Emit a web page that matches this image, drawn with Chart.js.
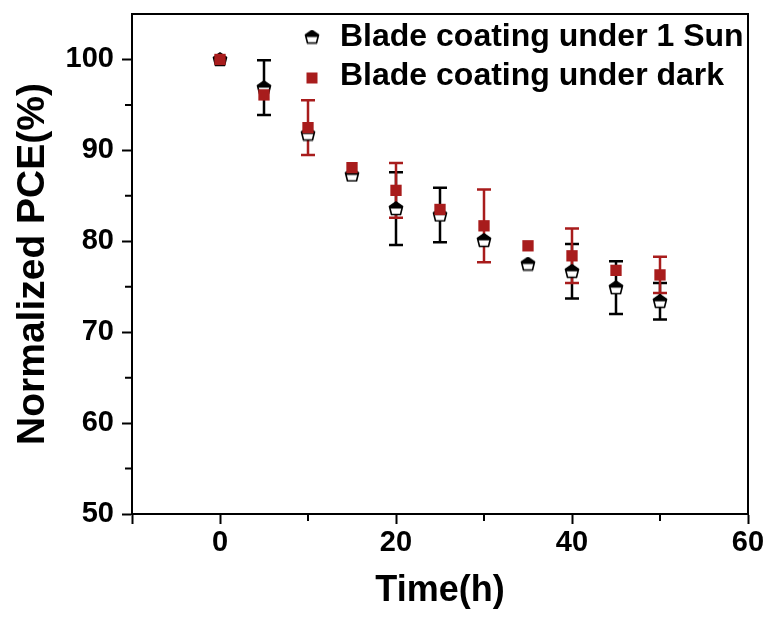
<!DOCTYPE html>
<html>
<head>
<meta charset="utf-8">
<script src="https://cdn.jsdelivr.net/npm/chart.js@4"></script>
<style>
  body { margin: 0; background: #fff; }
  #wrap { width: 768px; height: 617px; }
</style>
</head>
<body>
<div id="wrap"><canvas id="pceChart" width="768" height="617"></canvas></div>
<script>
// data
const times = [0, 5, 10, 15, 20, 25, 30, 35, 40, 45, 50]
const sunPCE = [100, 96.9, 91.8, 87.3, 83.6, 82.9, 80.1, 77.5, 76.7, 74.9, 73.4]
const sunErr = [0, 3, 0, 0, 4, 3, 0, 0, 3, 2.9, 2]
const darkPCE = [100, 96.1, 92.5, 88.1, 85.6, 83.5, 81.7, 79.5, 78.4, 76.8, 76.3]
const darkErr = [0, 0, 3, 0, 3, 0, 4, 0, 3, 0, 2]
const seriesNames = ['Blade coating under 1 Sun', 'Blade coating under dark']
const yTicks = [50, 60, 70, 80, 90, 100]
const xTicks = [-10, 0, 20, 40, 60]
const xLabels = [0, 20, 40, 60]

const RED = '#a81c1c'
const FONT = "'Liberation Sans', Arial, sans-serif"

// half-filled pentagon marker for the 1 Sun series
function makeSunMarker(){
    let c = document.createElement('canvas')
    c.width = 16
    c.height = 15
    let g = c.getContext('2d')
    let path = () => {
        g.beginPath()
        g.moveTo(8, 1)
        g.lineTo(14.5, 5.5)
        g.lineTo(12.5, 13.5)
        g.lineTo(3.5, 13.5)
        g.lineTo(1.5, 5.5)
        g.closePath()
    }
    path()
    g.fillStyle = '#fff'
    g.fill()
    g.save()
    path()
    g.clip()
    g.fillStyle = '#000'
    g.fillRect(0, 0, 16, 7.5)
    g.restore()
    path()
    g.lineWidth = 1.6
    g.strokeStyle = '#000'
    g.lineJoin = 'round'
    g.stroke()
    return c
}
const sunMarker = makeSunMarker()

function toPoints(values){
    return times.map((t, i) => ({x: t, y: values[i]}))
}

const errorBars = {
    id: 'errorBars',
    beforeDatasetsDraw(chart){
        let ctx = chart.ctx
        let xs = chart.scales.x, ys = chart.scales.y
        let sets = [[sunPCE, sunErr, '#000'], [darkPCE, darkErr, RED]]
        ctx.save()
        sets.forEach(([vals, errs, color]) => {
            ctx.strokeStyle = color
            ctx.lineWidth = 2.5
            vals.forEach((v, i) => {
                if (!errs[i]) return
                let x = xs.getPixelForValue(times[i])
                let top = ys.getPixelForValue(v + errs[i])
                let bot = ys.getPixelForValue(v - errs[i])
                ctx.beginPath()
                ctx.moveTo(x, top); ctx.lineTo(x, bot)
                ctx.moveTo(x - 7, top); ctx.lineTo(x + 7, top)
                ctx.moveTo(x - 7, bot); ctx.lineTo(x + 7, bot)
                ctx.stroke()
            })
        })
        ctx.restore()
    }
}

// short minor ticks, frame and the in-plot legend
const frameAndLegend = {
    id: 'frameAndLegend',
    afterDraw(chart){
        let ctx = chart.ctx
        let a = chart.chartArea
        let xs = chart.scales.x, ys = chart.scales.y
        ctx.save()
        ctx.strokeStyle = '#000'
        ctx.lineWidth = 2
        ctx.beginPath()
        xs.ticks.forEach(t => {
            if (xTicks.includes(t.value)) return
            let x = xs.getPixelForValue(t.value)
            ctx.moveTo(x, a.bottom); ctx.lineTo(x, a.bottom + 7)
        })
        ys.ticks.forEach(t => {
            if (yTicks.includes(t.value)) return
            let y = ys.getPixelForValue(t.value)
            ctx.moveTo(a.left, y); ctx.lineTo(a.left - 7, y)
        })
        ctx.stroke()
        ctx.strokeRect(a.left, a.top, a.right - a.left, a.bottom - a.top)

        ctx.beginPath()
        ctx.rect(a.left, a.top, a.right - a.left - 2, a.bottom - a.top)
        ctx.clip()
        ctx.drawImage(sunMarker, 312 - 8, 37 - 7.5)
        ctx.fillStyle = RED
        ctx.fillRect(312 - 5.5, 78 - 5.5, 11, 11)
        ctx.fillStyle = '#000'
        ctx.font = 'bold 32px ' + FONT
        ctx.textBaseline = 'middle'
        ctx.fillText(seriesNames[0], 340, 37)
        ctx.fillText(seriesNames[1], 340, 76)
        ctx.restore()
    }
}

function axisLook(major){
    return {
        grid: {
            display: true, drawOnChartArea: false, drawTicks: true, tickLength: 10, tickWidth: 2,
            tickColor: c => major.includes(c.tick && c.tick.value) ? '#000' : 'rgba(0,0,0,0)'
        },
        border: { display: true, color: '#000', width: 2 }
    }
}

new Chart(document.getElementById('pceChart'), {
    type: 'scatter',
    data: {
        datasets: [
            {
                label: seriesNames[0],
                data: toPoints(sunPCE),
                pointStyle: sunMarker,
                order: 2
            },
            {
                label: seriesNames[1],
                data: toPoints(darkPCE),
                pointStyle: 'rect',
                pointRadius: 8,
                backgroundColor: RED,
                borderColor: RED,
                borderWidth: 0,
                order: 1
            }
        ]
    },
    options: {
        responsive: false,
        animation: false,
        layout: { padding: { top: 14, right: 20, left: 0, bottom: 0 } },
        plugins: { legend: { display: false }, tooltip: { enabled: false } },
        scales: {
            x: {
                type: 'linear',
                min: -10,
                max: 60,
                ...axisLook(xTicks),
                afterFit: s => { s.height = 103 },
                ticks: {
                    stepSize: 10,
                    padding: 2,
                    color: '#000',
                    font: { family: FONT, size: 29, weight: 'bold' },
                    callback: v => xLabels.includes(v) ? v : ''
                },
                title: {
                    display: true,
                    text: 'Time(h)',
                    color: '#000',
                    font: { family: FONT, size: 36, weight: 'bold' },
                    padding: { top: 0, bottom: 4 }
                }
            },
            y: {
                type: 'linear',
                min: 50,
                max: 105,
                ...axisLook(yTicks),
                afterFit: s => {
                    s.width = 132
                    s.paddingTop = 0
                    s.paddingBottom = 0
                },
                afterBuildTicks: s => { s.ticks = s.ticks.filter(t => t.value <= 100) },
                ticks: {
                    stepSize: 5,
                    padding: 8,
                    color: '#000',
                    font: { family: FONT, size: 29, weight: 'bold' },
                    callback: v => yTicks.includes(v) ? v : ''
                },
                title: {
                    display: true,
                    text: 'Normalized PCE(%)',
                    color: '#000',
                    font: { family: FONT, size: 39, weight: 'bold' },
                    padding: { top: 10, bottom: 0 }
                }
            }
        }
    },
    plugins: [errorBars, frameAndLegend]
})
</script>
</body>
</html>
